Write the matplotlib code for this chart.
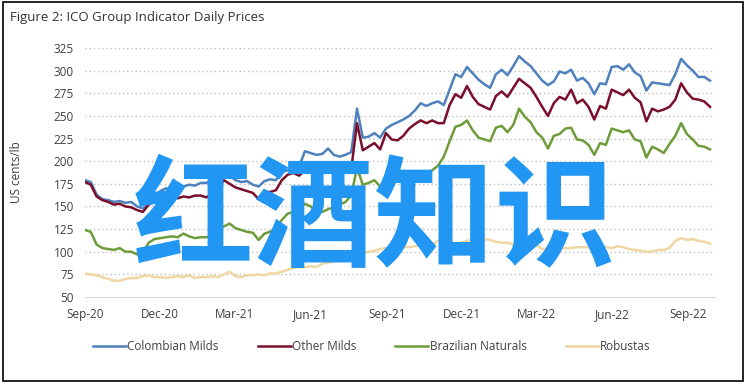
import numpy as np
import pandas as pd
import matplotlib
matplotlib.use("Agg")
import matplotlib.pyplot as plt
import matplotlib.dates as mdates
from matplotlib.patches import Rectangle

# weekly readings, 1 Sep 2020 onwards (US cents/lb)
dates = pd.date_range("2020-09-01", periods=109, freq="7D")

colombian = [179, 177, 163, 158, 157, 155, 156, 154, 155, 150, 148, 152, 158, 167, 170, 168,
             171, 172, 174, 173, 176, 176, 179, 183, 187, 184, 179, 177, 178, 174, 172, 178,
             180, 179, 188, 190, 192, 194, 211, 209, 207, 208, 214, 207, 205, 207, 210, 258,
             226, 227, 231, 226, 236, 240, 243, 246, 250, 256, 264, 261, 264, 266, 262, 279,
             296, 293, 304, 297, 290, 285, 281, 296, 301, 295, 305, 316, 310, 305, 297, 289,
             284, 288, 299, 297, 301, 289, 292, 286, 274, 286, 285, 304, 305, 301, 307, 298,
             294, 278, 287, 286, 285, 284, 296, 313, 306, 300, 293, 293, 289]
other_milds = [177, 174, 161, 157, 155, 152, 153, 150, 149, 146, 144, 152, 156, 158, 160, 161,
               159, 161, 160, 162, 162, 160, 165, 170, 179, 175, 171, 169, 167, 165, 158, 166,
               166, 168, 179, 185, 187, 184, 190, 188, 187, 188, 189, 187, 189, 194, 191, 242,
               212, 216, 220, 213, 231, 224, 223, 228, 236, 241, 245, 242, 245, 242, 242, 262,
               274, 270, 283, 271, 263, 260, 257, 272, 277, 271, 281, 291, 286, 281, 271, 260,
               250, 264, 271, 268, 279, 264, 268, 260, 246, 261, 258, 279, 276, 273, 279, 270,
               265, 244, 258, 255, 257, 260, 268, 286, 276, 269, 268, 266, 260]
brazilian = [124, 122, 108, 104, 103, 102, 104, 100, 100, 97, 99, 110, 114, 115, 116, 117,
             116, 120, 117, 115, 116, 116, 117, 124, 128, 131, 126, 124, 122, 121, 113, 120,
             122, 126, 135, 142, 144, 147, 153, 150, 145, 144, 147, 149, 152, 155, 162, 193,
             174, 176, 179, 172, 178, 180, 182, 181, 184, 186, 188, 186, 190, 195, 205, 222,
             238, 240, 245, 234, 226, 224, 222, 237, 239, 232, 240, 258, 249, 243, 232, 226,
             214, 228, 230, 236, 237, 224, 223, 218, 207, 220, 218, 236, 234, 232, 234, 224,
             222, 204, 216, 213, 209, 219, 228, 242, 230, 224, 217, 216, 213]
robustas = [76, 75, 74, 72, 70, 68, 68, 70, 71, 71, 73, 74, 72, 72, 71, 72,
            73, 72, 74, 71, 72, 72, 73, 72, 75, 78, 73, 72, 74, 74, 75, 74,
            76, 76, 78, 80, 82, 83, 83, 84, 83, 87, 88, 89, 90, 93, 92, 95,
            98, 100, 101, 103, 104, 105, 105, 105, 105, 106, 107, 107, 108, 112, 111, 110,
            108, 110, 112, 114, 115, 114, 113, 111, 110, 110, 108, 105, 104, 106, 107, 103,
            104, 105, 105, 104, 104, 105, 105, 105, 104, 104, 105, 104, 106, 105, 103, 102,
            101, 100, 100, 102, 102, 104, 112, 115, 113, 114, 112, 111, 109]

series = [("Colombian Milds", colombian, "#4f81bd"),
          ("Other Milds", other_milds, "#7a0f2b"),
          ("Brazilian Naturals", brazilian, "#6f9c3a"),
          ("Robustas", robustas, "#efd7a3")]

yticks = [50, 75, 100, 125, 150, 175, 200, 225, 250, 275, 300, 325]
xticks = pd.to_datetime(["2020-09-01", "2020-12-01", "2021-03-01", "2021-06-01", "2021-09-01",
                         "2021-12-01", "2022-03-01", "2022-06-01", "2022-09-01"])

plt.rcParams["font.family"] = ["Open Sans", "DejaVu Sans"]
txt = "#404040"

fig = plt.figure(figsize=(7.48, 3.87), dpi=100)
ax = fig.add_axes([85 / 748, 1 - 297 / 387, 630 / 748, 249 / 387])

for name, vals, col in series:
    ax.plot(dates, vals, color=col, lw=1.8, label=name, solid_joinstyle="round")

ax.set_ylim(50, 325)
ax.set_xlim(pd.Timestamp("2020-09-01"), pd.Timestamp("2022-10-03"))
ax.set_yticks(yticks)
ax.set_xticks(xticks)
ax.xaxis.set_major_formatter(mdates.DateFormatter("%b-%y"))
for y in yticks[1:]:
    ax.axhline(y, color="#bfbfbf", lw=1, ls=(0, (1, 2)), zorder=0)
for s in ["top", "right", "left"]:
    ax.spines[s].set_visible(False)
ax.spines["bottom"].set_color("#d9d9d9")
ax.tick_params(length=0, labelsize=8.5, colors=txt, pad=8)
ax.set_ylabel("US cents/lb", fontsize=8.5, color=txt)
ax.yaxis.set_label_coords(-62 / 630, 0.5)

fig.legend(loc="center", bbox_to_anchor=(0.497, 1 - 347 / 387), ncol=4, frameon=False,
           fontsize=8.5, handlelength=2.8, handletextpad=0.1, columnspacing=3.3,
           labelcolor=txt)

fig.text(10 / 748, 1 - 17 / 387, "Figure 2: ICO Group Indicator Daily Prices",
         fontsize=9.5, color="#333333", va="center")
fig.patches.append(Rectangle((3 / 748, 1 - 381 / 387), 740 / 748, 379 / 387,
                             transform=fig.transFigure, fill=False, ec="black", lw=1.2))

fig.text(374 / 748, 1 - 222 / 387, "红酒知识", fontsize=87, color="#2196f3",
         ha="center", va="center", family=["Noto Sans CJK SC", "DejaVu Sans"],
         weight="bold", zorder=10)

fig.savefig("out.png", dpi=100)
